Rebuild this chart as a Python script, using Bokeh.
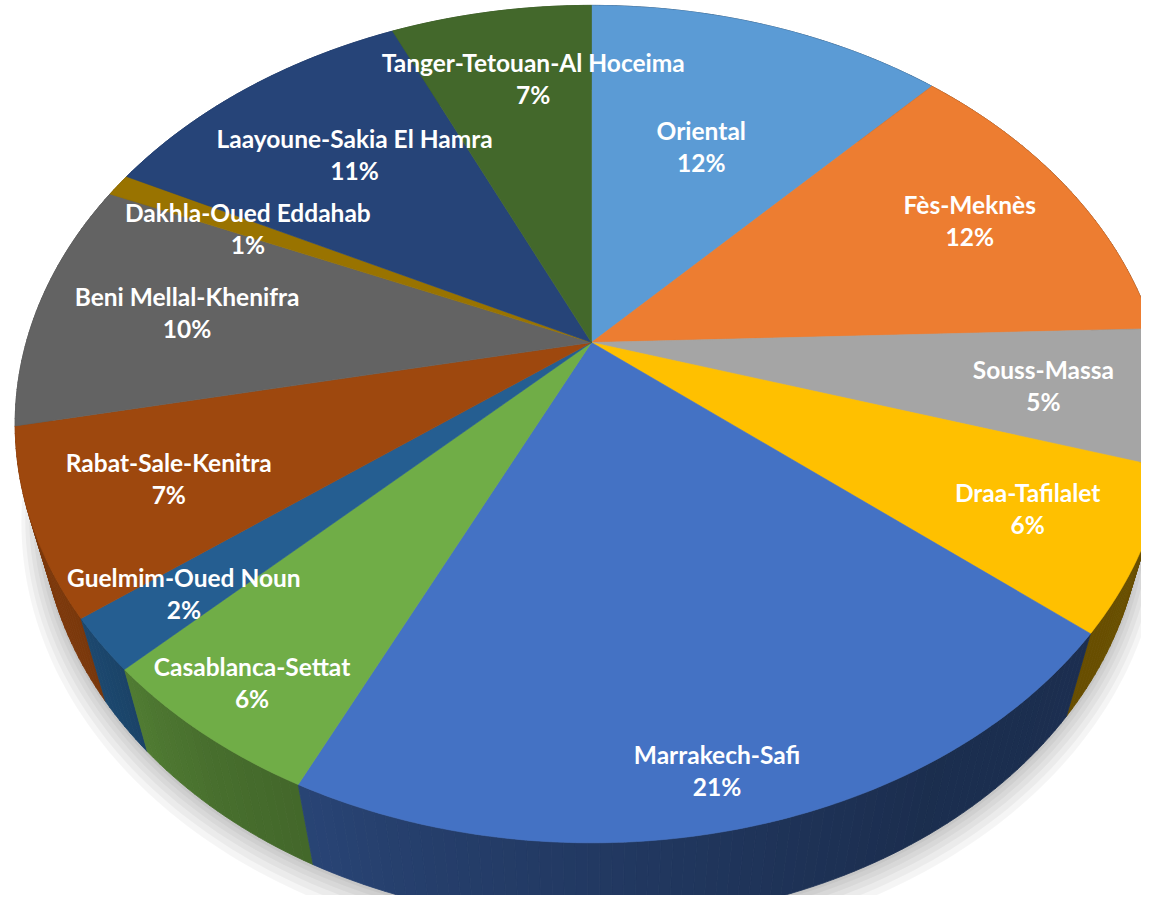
import numpy as np
from bokeh.plotting import figure
from bokeh.models import Range1d, ColumnDataSource
from bokeh.embed import file_html
from bokeh.resources import INLINE
from bokeh.core.properties import value

# ---------------- data ----------------
regions = ["Oriental", "Fès-Meknès", "Souss-Massa", "Draa-Tafilalet", "Marrakech-Safi",
           "Casablanca-Settat", "Guelmim-Oued Noun", "Rabat-Sale-Kenitra",
           "Beni Mellal-Khenifra", "Dakhla-Oued Eddahab", "Laayoune-Sakia El Hamra",
           "Tanger-Tetouan-Al Hoceima"]
shares = [12.06, 12.39, 5.28, 6.19, 21.11, 5.61, 2.03, 7.14, 9.69, 0.89, 10.81, 6.80]

# ---------------- style ----------------
colors = ["#5B9BD5", "#ED7D31", "#A5A5A5", "#FFC000", "#4472C4", "#70AD47",
          "#255E91", "#9E480E", "#636363", "#997300", "#264478", "#43682B"]
label_r = [0.58, 0.78, 0.79, 0.81, 0.90, 0.89, 0.85, 0.77, 0.73, 0.71, 0.69, 0.76]
label_dt = [0, 0, 0, 0, 0.9, 0, 0, 0, 0, 0, 2.0, 3.3]

# camera / projection (output in page pixels)
CX, CY = 591.0, 342.0
F, D = 2035.0, 3.60
SA, CA = 0.7126, 0.7016
H = 0.225


def project(theta_deg, r, Y):
    t = np.radians(theta_deg)
    X = r * np.sin(t)
    Z = r * np.cos(t)
    depth = D + Z * CA - Y * SA
    vc = Z * SA + Y * CA
    return CX + F * X / depth, CY - F * vc / depth


def shade(hex_color, f):
    h = hex_color.lstrip("#")
    rgb = [int(h[i:i + 2], 16) for i in (0, 2, 4)]
    return "#%02x%02x%02x" % tuple(max(0, min(255, int(round(c * f)))) for c in rgb)


fr = np.array(shares) / sum(shares)
ends = np.cumsum(fr) * 360.0
starts = ends - fr * 360.0

p = figure(width=1141, height=895, output_backend="svg", toolbar_location=None,
           x_range=Range1d(0, 1141), y_range=Range1d(895, 0), min_border=0)
p.axis.visible = False
p.grid.visible = False
p.outline_line_color = None
p.background_fill_color = "white"
p.border_fill_color = "white"

# ---------------- soft shadow ----------------
full = np.linspace(0, 360, 361)
bx, by = project(full, 1.0, -H)
bcx, bcy = project(0, 0.0, -H)
for s, dy in [(1.035, 14), (1.028, 11), (1.021, 8), (1.014, 6), (1.008, 4), (1.003, 2)]:
    sx = bcx + (bx - bcx) * s
    sy = bcy + (by - bcy) * s + dy
    p.patch(list(sx), list(sy), fill_color="#000000", fill_alpha=0.04, line_color=None)

# ---------------- side walls ----------------
shade_ang = [90, 150, 195, 215, 235, 270]
shade_fac = [0.42, 0.40, 0.55, 0.64, 0.78, 0.80]
quads = []
for st, en, col in zip(starts, ends, colors):
    n = max(2, int(np.ceil((en - st) / 1.0)))
    a = np.linspace(st, en, n + 1)
    for a1, a2 in zip(a[:-1], a[1:]):
        xt1, yt1 = project(a1, 1.0, 0.0)
        xt2, yt2 = project(a2, 1.0, 0.0)
        xb2, yb2 = project(a2, 1.0, -H)
        xb1, yb1 = project(a1, 1.0, -H)
        am = 0.5 * (a1 + a2)
        f = float(np.interp(am % 360, shade_ang, shade_fac))
        zdepth = np.cos(np.radians(am))
        quads.append((zdepth, [xt1, xt2, xb2, xb1], [yt1, yt2, yb2, yb1], shade(col, f)))
quads.sort(key=lambda q: -q[0])
wsrc = ColumnDataSource(dict(xs=[q[1] for q in quads], ys=[q[2] for q in quads],
                             c=[q[3] for q in quads]))
p.patches("xs", "ys", source=wsrc, fill_color="c", line_color="c", line_width=0.8)

# ---------------- top face ----------------
txs, tys = [], []
for st, en in zip(starts, ends):
    a = np.linspace(st, en, max(3, int(np.ceil((en - st) / 0.5)) + 1))
    ax, ay = project(a, 1.0, 0.0)
    txs.append([CX] + list(ax))
    tys.append([CY] + list(ay))
tsrc = ColumnDataSource(dict(xs=txs, ys=tys, c=colors))
p.patches("xs", "ys", source=tsrc, fill_color="c", line_color="c", line_width=0.6)

# ---------------- labels ----------------
mids = 0.5 * (starts + ends) + np.array(label_dt)
lx, ly = project(mids, np.array(label_r), 0.0)
pct = ["%d%%" % int(round(s)) for s in shares]
lsrc = ColumnDataSource(dict(x=lx, y1=ly - 16, y2=ly + 16, name=regions, pct=pct))
common = dict(text_color="white", text_font=value("Lato"), text_font_style="bold",
              text_font_size="24.5px", text_align="center", text_baseline="middle")
p.text(x="x", y="y1", text="name", source=lsrc, **common)
p.text(x="x", y="y2", text="pct", source=lsrc, **common)

open("out.html", "w").write(file_html(p, INLINE))
